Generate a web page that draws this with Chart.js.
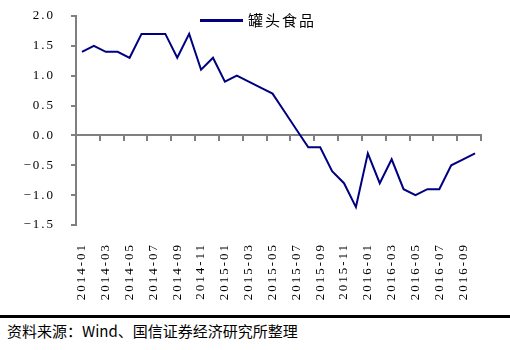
<!DOCTYPE html>
<html>
<head>
<meta charset="utf-8">
<script src="https://cdn.jsdelivr.net/npm/chart.js@4/dist/chart.umd.min.js"></script>
<style>
  body { margin: 0; background: #fff; }
  #wrap { position: relative; width: 510px; height: 350px; overflow: hidden; }
  #chartBox { position: absolute; left: 0; top: 0; width: 510px; height: 312px; }
  .legend-line { position: absolute; left: 200px; top: 18.5px; width: 43px; height: 3px; background: #000080; }
  .legend-text { position: absolute; left: 248px; top: 9px; line-height: 22px; font: 15px "Noto Sans CJK SC"; letter-spacing: 2px; color: #000; }
  .rule { position: absolute; left: 0; top: 315px; width: 510px; height: 3px; background: #000; }
  .source { position: absolute; left: 7px; top: 320px; line-height: 20px; font: 15px "Noto Sans CJK SC"; color: #000; }
</style>
</head>
<body>
<div id="wrap">
  <div id="chartBox"><canvas id="chart"></canvas></div>
  <div class="legend-line"></div>
  <div class="legend-text">罐头食品</div>
  <div class="rule"></div>
  <div class="source">资料来源：Wind、国信证券经济研究所整理</div>
</div>
<script>
const months = [
  "2014-01", "2014-02", "2014-03", "2014-04", "2014-05", "2014-06",
  "2014-07", "2014-08", "2014-09", "2014-10", "2014-11", "2014-12",
  "2015-01", "2015-02", "2015-03", "2015-04", "2015-05", "2015-06",
  "2015-07", "2015-08", "2015-09", "2015-10", "2015-11", "2015-12",
  "2016-01", "2016-02", "2016-03", "2016-04", "2016-05", "2016-06",
  "2016-07", "2016-08", "2016-09", "2016-10"
];

const cannedFood = [
  1.4, 1.5, 1.4, 1.4, 1.3, 1.7, 1.7, 1.7, 1.3, 1.7, 1.1, 1.3,
  0.9, 1.0, 0.9, 0.8, 0.7, 0.4, 0.1, -0.2, -0.2, -0.6, -0.8, -1.2,
  -0.3, -0.8, -0.4, -0.9, -1.0, -0.9, -0.9, -0.5, -0.4, -0.3
];

const seriesName = "罐头食品";

const axisGrey = "#808080";
const tickFont = { family: "'Liberation Serif', 'Times New Roman', serif", size: 13 };

// wider glyph spacing, like the original SimSun rendering
const spacing = {
  id: "spacing",
  beforeLayout(chart) { chart.ctx.letterSpacing = "2px"; },
  beforeDraw(chart) { chart.ctx.letterSpacing = "2px"; }
};

new Chart(document.getElementById("chart"), {
  type: "line",
  data: {
    labels: months,
    datasets: [{
      label: seriesName,
      data: cannedFood,
      borderColor: "#000080",
      borderWidth: 2,
      pointRadius: 0,
      tension: 0
    }]
  },
  options: {
    responsive: true,
    maintainAspectRatio: false,
    animation: false,
    layout: { padding: { top: 16, right: 29, left: 0, bottom: 0 } },
    plugins: {
      legend: { display: false },
      tooltip: { enabled: false }
    },
    scales: {
      x: {
        position: "bottom",
        offset: true,
        border: { display: false },
        grid: { display: false },
        ticks: {
          autoSkip: false,
          minRotation: 90,
          maxRotation: 90,
          padding: 10,
          color: "#000",
          font: tickFont,
          callback: (v, i) => i % 2 === 0 ? months[i] : ""
        },
        afterFit: s => { s.height = 87; }
      },
      x2: {
        type: "category",
        position: { y: 0 },
        offset: true,
        border: { color: axisGrey, width: 2 },
        grid: {
          offset: true,
          drawOnChartArea: false,
          tickLength: 5,
          lineWidth: 2,
          tickColor: ctx => (ctx.index === undefined || ctx.index % 2 === 0) ? axisGrey : "rgba(0,0,0,0)"
        },
        ticks: { display: false }
      },
      y: {
        min: -1.5,
        max: 2.0,
        border: { color: axisGrey, width: 2 },
        grid: {
          drawOnChartArea: false,
          tickLength: 5,
          lineWidth: 2,
          color: axisGrey
        },
        ticks: {
          stepSize: 0.5,
          padding: 16,
          color: "#000",
          font: tickFont,
          callback: v => (v < 0 ? "−" : "") + Math.abs(v).toFixed(1)
        },
        afterFit: s => {
          s.width = 76;
          s.paddingTop = 8;
          s.paddingBottom = 8;
        }
      }
    }
  },
  plugins: [spacing]
});
</script>
</body>
</html>
